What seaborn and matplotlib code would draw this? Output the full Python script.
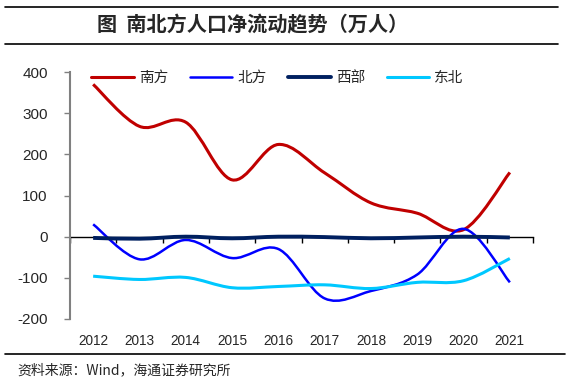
import matplotlib.pyplot as plt
import seaborn as sns
import numpy as np
import pandas as pd
from matplotlib.path import Path
from matplotlib.patches import PathPatch
from matplotlib.lines import Line2D

# Data (万人)
years = ["2012", "2013", "2014", "2015", "2016", "2017", "2018", "2019", "2020", "2021"]
south = [370, 268, 278, 138, 224, 155, 82, 57, 17, 156]
north = [30, -55, -8, -52, -30, -150, -132, -92, 19, -111]
west = [-3, -5, 0, -4, 0, -1, -4, -2, 0, -2]
northeast = [-96, -104, -99, -124, -121, -117, -126, -111, -107, -53]

series_names = ["南方", "北方", "西部", "东北"]
series_colors = ["#C00000", "#0000FF", "#002060", "#00C8FF"]
series_widths = [2.2, 1.8, 2.8, 2.2]

sns.set_theme(style="white")
plt.rcParams["font.family"] = ["Liberation Sans", "Noto Sans CJK SC", "DejaVu Sans"]

df = pd.DataFrame({"year": years, "南方": south, "北方": north, "西部": west, "东北": northeast})
long_df = df.melt(id_vars="year", var_name="region", value_name="value")
long_df["x"] = long_df["year"].map({y: i for i, y in enumerate(years)})


def smooth_path(xs, ys):
    # Excel-style smoothed line: cubic Bezier segments through every data point
    xs = np.asarray(xs, dtype=float)
    ys = np.asarray(ys, dtype=float)
    n = len(xs)
    verts = [(xs[0], ys[0])]
    codes = [Path.MOVETO]
    for i in range(n - 1):
        p0 = np.array([xs[max(i - 1, 0)], ys[max(i - 1, 0)]])
        p1 = np.array([xs[i], ys[i]])
        p2 = np.array([xs[i + 1], ys[i + 1]])
        p3 = np.array([xs[min(i + 2, n - 1)], ys[min(i + 2, n - 1)]])
        c1 = p1 + (p2 - p0) / 6.0
        c2 = p2 - (p3 - p1) / 6.0
        verts += [tuple(c1), tuple(c2), tuple(p2)]
        codes += [Path.CURVE4] * 3
    return Path(verts, codes)


fig = plt.figure(figsize=(5.76, 3.89), dpi=100)
ax = fig.add_axes([70 / 576, 1 - 319 / 389, 463 / 576, 247 / 389])

for name, color, lw in zip(series_names, series_colors, series_widths):
    sub = long_df[long_df["region"] == name]
    patch = PathPatch(smooth_path(sub["x"], sub["value"]), facecolor="none",
                      edgecolor=color, linewidth=lw, capstyle="butt", zorder=3)
    ax.add_patch(patch)

ax.set_xlim(-0.5, len(years) - 0.5)
ax.set_ylim(-200, 400)
ax.set_yticks(np.arange(-200, 401, 100))
ax.set_yticklabels([str(v) for v in range(-200, 401, 100)], fontsize=11)

sns.despine(ax=ax, top=True, right=True)
ax.spines["bottom"].set_position(("data", 0))
ax.spines["bottom"].set_color("black")
ax.spines["bottom"].set_linewidth(1.0)
ax.spines["bottom"].set_zorder(2)
ax.spines["left"].set_color("#808080")
ax.spines["left"].set_linewidth(1.5)

ax.set_xticks(np.arange(-0.5, len(years), 1))
ax.set_xticklabels([])
ax.tick_params(axis="x", direction="out", length=4, width=1, color="black", bottom=True)
ax.tick_params(axis="y", direction="out", length=4, width=1, color="#808080", left=True, pad=12)

sec = ax.secondary_xaxis("bottom")
sec.set_xticks(range(len(years)))
sec.set_xticklabels(years, fontsize=9.8)
sec.tick_params(length=0, pad=11)
sec.spines["bottom"].set_visible(False)

handles = [Line2D([0], [0], color=c, lw=lw) for c, lw in zip(series_colors, series_widths)]
fig.legend(handles, series_names, loc="center left", bbox_to_anchor=(84 / 576, 1 - 78 / 389),
           ncol=4, frameon=False, handlelength=2.9, handletextpad=0.35, columnspacing=1.5,
           borderpad=0, prop={"family": ["Noto Sans CJK SC"], "size": 10.5})

# title block with rules
fig.add_artist(Line2D([5 / 576, 558 / 576], [1 - 7 / 389, 1 - 7 / 389], color="black", lw=1.2))
fig.add_artist(Line2D([5 / 576, 558 / 576], [1 - 44 / 389, 1 - 44 / 389], color="black", lw=1.2))
fig.text(97 / 576, 1 - 25 / 389, "图  南北方人口净流动趋势（万人）", ha="left", va="center",
         fontsize=14.5, fontweight="bold", family=["Noto Sans CJK SC"])

fig.add_artist(Line2D([5 / 576, 565 / 576], [1 - 354 / 389, 1 - 354 / 389], color="black", lw=1.2))
fig.text(17 / 576, 1 - 370 / 389, "资料来源：Wind，海通证券研究所", ha="left", va="center",
         fontsize=10, family=["Noto Sans CJK SC", "DejaVu Sans"])

fig.savefig("out.png", dpi=100)
